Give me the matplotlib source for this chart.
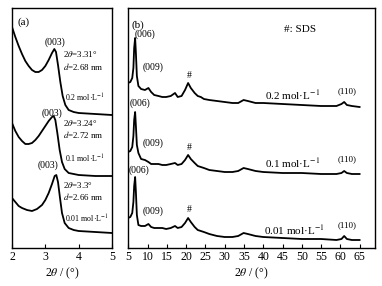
import matplotlib.pyplot as plt

plt.rcParams['font.family'] = ['Liberation Serif', 'DejaVu Serif']
plt.rcParams['mathtext.fontset'] = 'stix'

# ---- panel (a): low angle region, y in arbitrary stacked units
a_x_02 = [2.0, 2.1, 2.2, 2.3, 2.4, 2.5, 2.6, 2.7, 2.8, 2.9, 3.0, 3.1, 3.2, 3.27,
          3.32, 3.38, 3.45, 3.52, 3.6, 3.7, 3.85, 4.0, 4.5, 5.0]
a_y_02 = [221, 211, 202, 194, 187, 182, 178, 176, 176, 178, 182, 188, 195, 199,
          196, 183, 166, 152, 143, 138, 136, 135, 134, 133]

a_x_01 = [2.0, 2.1, 2.2, 2.3, 2.4, 2.5, 2.6, 2.7, 2.8, 2.9, 3.0, 3.1, 3.2, 3.25,
          3.3, 3.36, 3.43, 3.5, 3.58, 3.7, 3.85, 4.0, 4.5, 5.0]
a_y_01 = [125, 117, 111, 107, 104, 104, 105, 108, 112, 117, 122, 127, 131, 132,
          128, 115, 98, 86, 79, 75, 74, 73, 72, 72]

a_x_001 = [2.0, 2.1, 2.2, 2.3, 2.45, 2.6, 2.75, 2.9, 3.0, 3.1, 3.2, 3.28, 3.33,
           3.38, 3.44, 3.5, 3.58, 3.7, 3.85, 4.0, 4.5, 5.0]
a_y_001 = [50, 46, 42, 40, 38, 37, 39, 43, 48, 55, 64, 72, 73,
           66, 50, 35, 25, 20, 18, 17, 16, 15]

# ---- panel (b): wide angle XRD patterns
b_x = [4.9, 5.5, 6.0, 6.3, 6.5, 6.75, 6.95, 7.2, 7.6, 8.3, 9.3, 10.2, 10.9, 11.7,
       12.8, 13.8, 14.8, 16.0, 17.1, 17.8, 18.8, 19.7, 20.5, 21.2, 22.2, 23.0,
       23.8, 24.6, 26.0, 28.0, 30.0, 32.0, 33.5, 34.9, 36.0, 38.0, 40.0, 45.0,
       50.0, 55.0, 59.0, 60.3, 61.0, 61.7, 63.0, 65.0]
b_y_02 = [165, 166, 170, 180, 200, 210, 195, 172, 162, 159, 158, 160, 156, 153,
          152, 151, 151, 152, 155, 151, 152, 158, 165, 160, 155, 152,
          151, 149, 148, 147, 146, 145, 145, 148, 147, 145, 145, 144,
          143, 142, 142, 144, 146, 143, 142, 141]
b_y_01 = [96, 97, 101, 112, 128, 136, 122, 103, 95, 89, 88, 86, 84, 84,
          84, 83, 83, 84, 85, 83, 84, 88, 93, 89, 85, 82,
          81, 80, 78, 77, 76, 76, 77, 80, 79, 77, 76, 75,
          75, 74, 74, 75, 77, 75, 74, 74]
b_y_001 = [30, 31, 35, 46, 62, 71, 56, 33, 23, 22, 22, 24, 21, 20,
           20, 20, 19, 20, 22, 20, 21, 25, 30, 26, 21, 18,
           17, 16, 14, 12, 11, 11, 12, 15, 14, 12, 11, 10,
           9, 9, 8, 9, 12, 9, 8, 8]

fig = plt.figure(figsize=(3.82, 2.86), dpi=100)
ax1 = fig.add_axes([12/382, 38/286, 100/382, 240/286])
ax2 = fig.add_axes([128/382, 38/286, 247/382, 240/286])

lw = 1.3
ax1.plot(a_x_02, a_y_02, color='black', lw=lw)
ax1.plot(a_x_01, a_y_01, color='black', lw=lw)
ax1.plot(a_x_001, a_y_001, color='black', lw=lw)
ax1.set_xlim(2, 5)
ax1.set_ylim(0, 240)
ax1.set_xticks([2, 3, 4, 5])
ax1.set_yticks([])

ax2.plot(b_x, b_y_02, color='black', lw=lw)
ax2.plot(b_x, b_y_01, color='black', lw=lw)
ax2.plot(b_x, b_y_001, color='black', lw=lw)
ax2.set_xlim(4.9, 69)
ax2.set_ylim(0, 240)
ax2.set_xticks(range(5, 70, 5))
ax2.set_yticks([])

for ax in (ax1, ax2):
    for s in ax.spines.values():
        s.set_linewidth(1.0)
    ax.tick_params(axis='x', direction='in', length=3, width=0.8,
                   labelsize=8.5, pad=2)
    ax.set_xlabel(r'2$\theta$ / (°)', fontsize=8.5, labelpad=2)

fs_s = 6.4
# panel (a) labels
ax1.text(0.05, 0.96, '(a)', transform=ax1.transAxes, fontsize=8, va='top')
for xx, yy, txt in [(3.28, 206, '(003)'), (3.2, 135, '(003)'), (3.08, 83, '(003)')]:
    ax1.text(xx, yy, txt, fontsize=7, ha='center', va='center')
for yy, t1, t2 in [(194, r'2$\theta$=3.31°', r'$d$=2.68 nm'),
                   (125, r'2$\theta$=3.24°', r'$d$=2.72 nm'),
                   (63, r'2$\theta$=3.3°', r'$d$=2.66 nm')]:
    ax1.text(3.53, yy, t1, fontsize=fs_s, va='center')
    ax1.text(3.53, yy - 12, t2, fontsize=fs_s, va='center')
for yy, txt in [(150, '0.2 mol·L$^{-1}$'), (89, '0.1 mol·L$^{-1}$'),
                (29, '0.01 mol·L$^{-1}$')]:
    ax1.text(3.6, yy, txt, fontsize=5.7, va='center')

# panel (b) labels
ax2.text(0.015, 0.95, '(b)', transform=ax2.transAxes, fontsize=8, va='top')
ax2.text(49.5, 219, '#: SDS', fontsize=8, ha='center', va='center')
for x006, yy006, yy009, yyh in [(9.3, 214, 181, 172), (8.0, 145, 105, 100),
                                (7.8, 78, 37, 38)]:
    ax2.text(x006, yy006, '(006)', fontsize=7, ha='center', va='center')
    ax2.text(11.3, yy009, '(009)', fontsize=7, ha='center', va='center')
    ax2.text(20.8, yyh, '#', fontsize=7, ha='center', va='center')
for xx, yy, yl, txt in [(47.5, 153, 157, '0.2 mol·L$^{-1}$'),
                        (47.5, 85, 89, '0.1 mol·L$^{-1}$'),
                        (48.0, 18, 23, '0.01 mol·L$^{-1}$')]:
    ax2.text(xx, yy, txt, fontsize=8, ha='center', va='center')
    ax2.text(61.8, yl, '(110)', fontsize=6.5, ha='center', va='center')

plt.savefig('out.png', dpi=100)
